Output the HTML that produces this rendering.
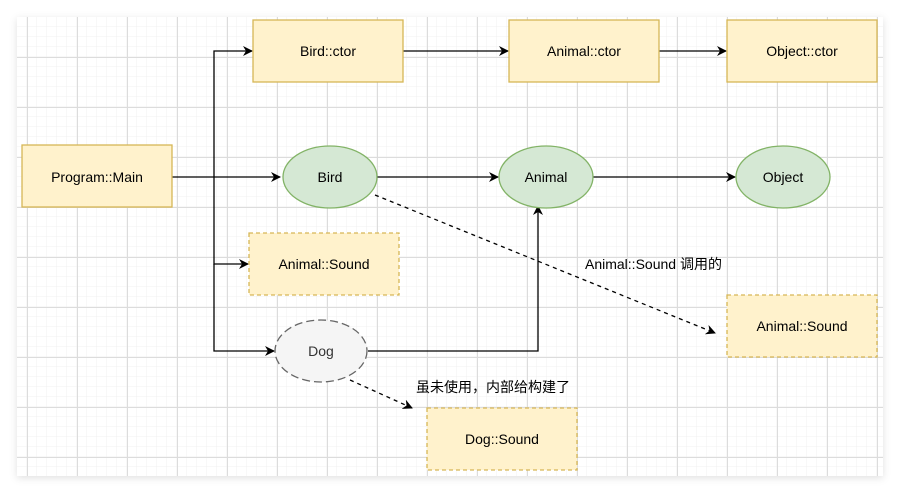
<!DOCTYPE html>
<html><head><meta charset="utf-8"><style>
body{margin:0;background:#fff;width:900px;height:493px;overflow:hidden}
svg text{font-family:"Liberation Sans","Noto Sans CJK SC",sans-serif;font-size:14px}
</style></head><body>
<svg width="900" height="493" xmlns="http://www.w3.org/2000/svg">
<defs>
<pattern id="minor" width="10" height="10" patternUnits="userSpaceOnUse" x="7" y="7"><path d="M10 0V10M0 10H10" fill="none" stroke="#f0f0f0" stroke-width="1"/></pattern>
<pattern id="major" width="50" height="50" patternUnits="userSpaceOnUse" x="27" y="7"><path d="M0.5 0V50M0 0.5H50" fill="none" stroke="#dcdcdc" stroke-width="1"/></pattern>
<marker id="a" markerWidth="10" markerHeight="10" refX="9" refY="5" orient="auto" markerUnits="userSpaceOnUse"><path d="M0,0 L10,5 L0,10 L3,5 z" fill="#000"/></marker>
<filter id="sh" x="-5%" y="-5%" width="110%" height="110%"><feDropShadow dx="0" dy="2" stdDeviation="4" flood-color="#000" flood-opacity="0.12"/></filter>
</defs>
<rect x="17" y="17" width="866" height="459" fill="#fff" filter="url(#sh)"/>
<rect x="17" y="17" width="866" height="459" fill="url(#minor)"/>
<rect x="17" y="17" width="866" height="459" fill="url(#major)"/>
<g stroke="#000" stroke-width="1.3" fill="none">
<path d="M172 177H280" marker-end="url(#a)"/>
<path d="M214 177V51H252" marker-end="url(#a)"/>
<path d="M214 177V264H248" marker-end="url(#a)"/>
<path d="M214 264V351H274" marker-end="url(#a)"/>
<path d="M403 51H508" marker-end="url(#a)"/>
<path d="M659 51H726" marker-end="url(#a)"/>
<path d="M377 177H498" marker-end="url(#a)"/>
<path d="M593 177H735" marker-end="url(#a)"/>
<path d="M368 351H538V206" marker-end="url(#a)"/>
<path d="M375 195L715 333" stroke-dasharray="4 4" marker-end="url(#a)"/>
<path d="M350 380L412 408" stroke-dasharray="4 4" marker-end="url(#a)"/>
</g>
<g stroke="#d6b656" stroke-width="1.3" fill="#fff2cc">
<rect x="22" y="145" width="150" height="62"/>
<rect x="253" y="20" width="150" height="62"/>
<rect x="509" y="20" width="150" height="62"/>
<rect x="727" y="20" width="150" height="62"/>
<rect x="249" y="233" width="150" height="62" stroke-dasharray="4 3"/>
<rect x="727" y="295" width="150" height="62" stroke-dasharray="4 3"/>
<rect x="427" y="408" width="150" height="62" stroke-dasharray="4 3"/>
</g>
<g stroke="#82b366" stroke-width="1.3" fill="#d5e8d4">
<ellipse cx="330" cy="177" rx="47" ry="31"/>
<ellipse cx="546" cy="177" rx="47" ry="31"/>
<ellipse cx="783" cy="177" rx="47" ry="31"/>
</g>
<ellipse cx="321" cy="351" rx="46" ry="31" fill="#f5f5f5" stroke="#666" stroke-width="1.3" stroke-dasharray="8 4"/>
<g text-anchor="middle" fill="#000">
<text x="97" y="182">Program::Main</text>
<text x="328" y="56">Bird::ctor</text>
<text x="584" y="56">Animal::ctor</text>
<text x="802" y="56">Object::ctor</text>
<text x="330" y="182">Bird</text>
<text x="546" y="182">Animal</text>
<text x="783" y="182">Object</text>
<text x="324" y="269">Animal::Sound</text>
<text x="802" y="331">Animal::Sound</text>
<text x="502" y="444">Dog::Sound</text>
<text x="321" y="356" fill="#333">Dog</text>
</g>
<text x="585" y="269">Animal::Sound 调用的</text>
<text x="416" y="392">虽未使用，内部给构建了</text>
</svg>
</body></html>
